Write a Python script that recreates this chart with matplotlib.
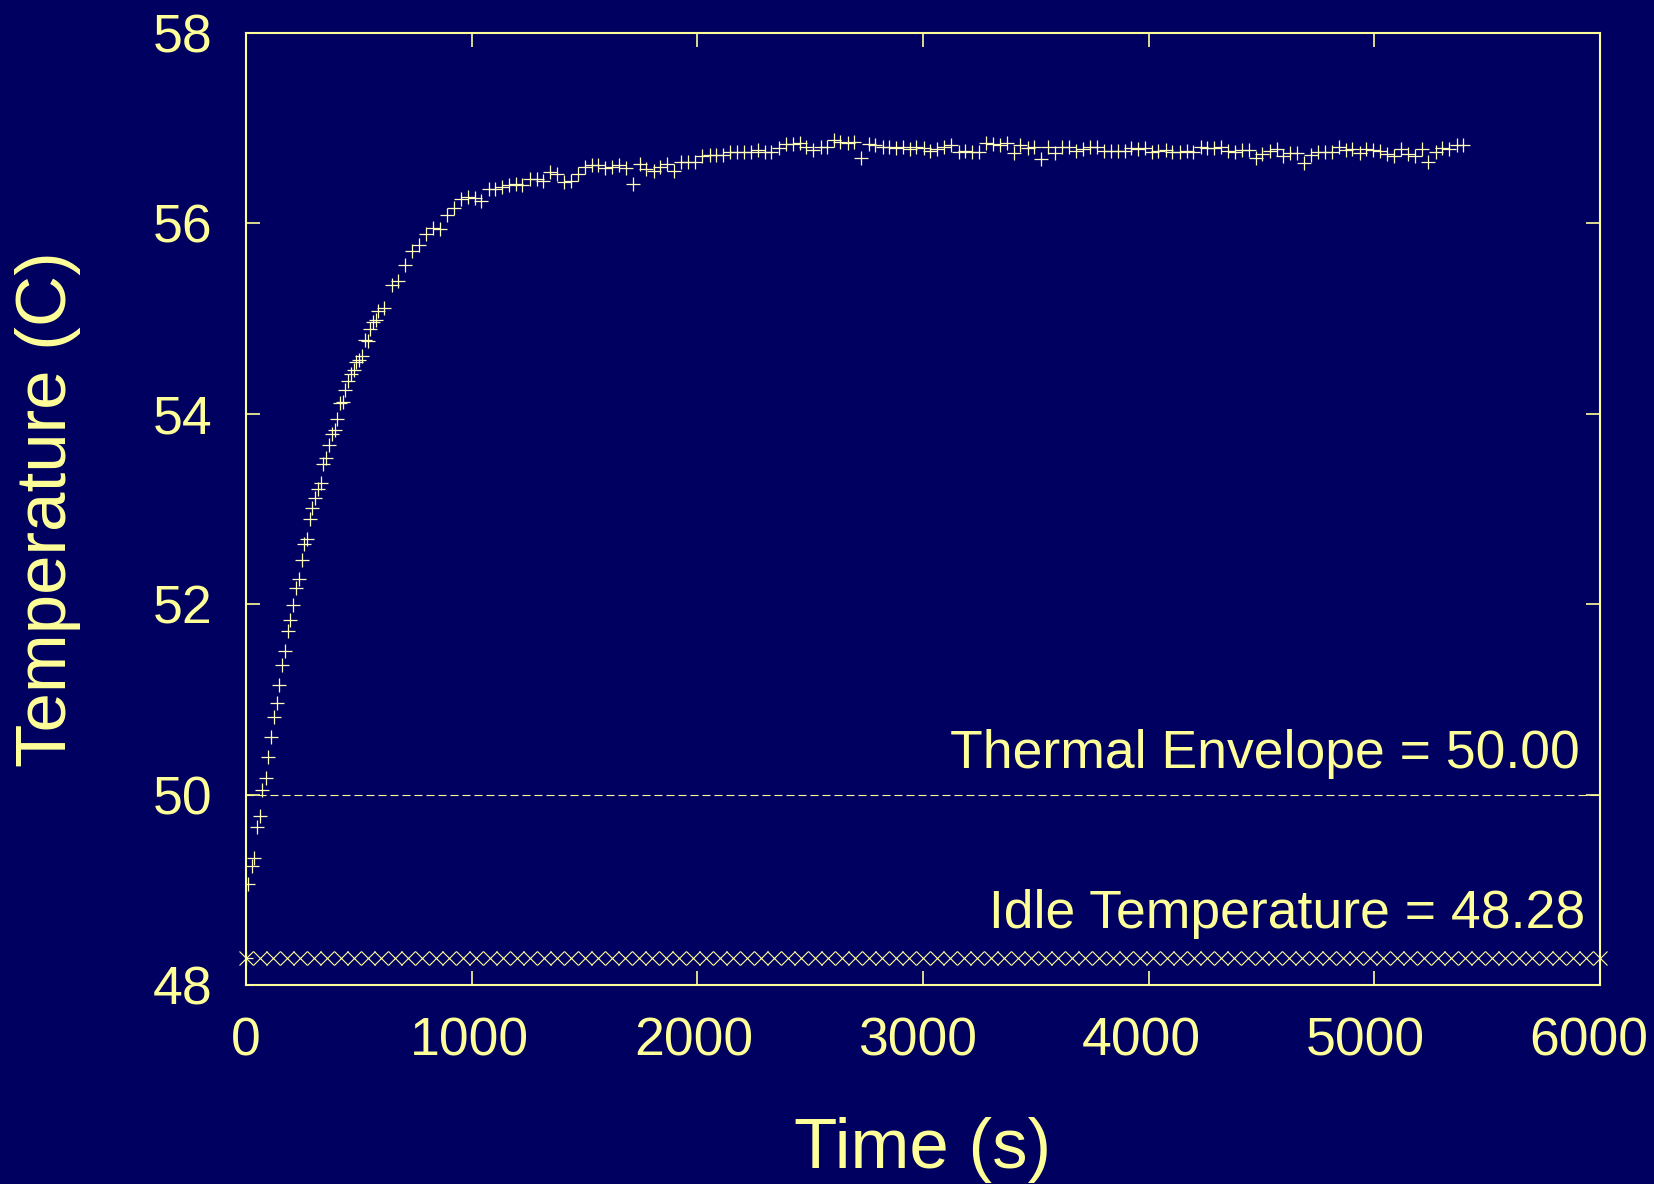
import numpy as np
import matplotlib
matplotlib.use("Agg")
import matplotlib.pyplot as plt
import matplotlib.transforms as mtransforms

plt.rcParams['font.family'] = ['Liberation Sans', 'DejaVu Sans']

# measured temperature trace (time in s, temperature in C)
times = [0, 10, 25, 37, 50, 62, 72, 87, 99, 109, 123, 136, 148, 160, 171, 185, 196,
         208, 222, 234, 247, 257, 272, 284, 294, 306, 319, 331, 343, 355, 369, 381,
         393, 403, 417, 429, 440, 454, 466, 479, 489, 502, 514, 527, 539, 551, 564,
         575, 587, 613, 646, 675, 705, 735, 767, 798, 828, 860, 890, 922, 952, 983,
         1014, 1042, 1075, 1104, 1135, 1165, 1196, 1225, 1259, 1289, 1316, 1348,
         1378, 1407, 1440, 1470, 1503, 1533, 1562, 1592, 1622, 1654, 1684, 1715,
         1744, 1774, 1806, 1836, 1866, 1895, 1928, 1957, 1991, 2021, 2055, 2084,
         2114, 2146, 2176, 2205, 2238, 2267, 2298, 2328, 2364, 2393, 2423, 2453,
         2483, 2513, 2546, 2575, 2605, 2634, 2667, 2696, 2726, 2759, 2789, 2822,
         2851, 2881, 2912, 2941, 2971, 3003, 3033, 3062, 3095, 3124, 3158, 3187,
         3217, 3246, 3281, 3310, 3340, 3373, 3402, 3432, 3464, 3494, 3523, 3553,
         3583, 3617, 3646, 3679, 3709, 3740, 3769, 3802, 3831, 3864, 3894, 3923,
         3953, 3984, 4016, 4043, 4075, 4105, 4139, 4168, 4198, 4231, 4260, 4290,
         4322, 4352, 4382, 4412, 4444, 4474, 4504, 4536, 4567, 4597, 4626, 4659,
         4689, 4718, 4751, 4780, 4814, 4844, 4873, 4903, 4936, 4965, 4995, 5026,
         5058, 5088, 5120, 5150, 5181, 5211, 5239, 5273, 5302, 5332, 5366, 5395]
temps = [48.28, 49.06, 49.25, 49.33, 49.66, 49.78, 50.05, 50.17, 50.40, 50.60, 50.81,
         50.96, 51.15, 51.36, 51.51, 51.72, 51.83, 51.99, 52.17, 52.26, 52.46, 52.63,
         52.68, 52.89, 53.01, 53.12, 53.21, 53.27, 53.47, 53.54, 53.67, 53.79, 53.83,
         53.95, 54.11, 54.12, 54.25, 54.34, 54.42, 54.46, 54.54, 54.57, 54.61, 54.77,
         54.76, 54.89, 54.96, 54.99, 55.08, 55.11, 55.35, 55.39, 55.56, 55.71, 55.77,
         55.89, 55.95, 55.94, 56.09, 56.16, 56.26, 56.28, 56.27, 56.24, 56.36, 56.36,
         56.38, 56.40, 56.41, 56.40, 56.47, 56.47, 56.45, 56.54, 56.52, 56.43, 56.45,
         56.52, 56.59, 56.61, 56.61, 56.58, 56.59, 56.61, 56.58, 56.41, 56.62, 56.57,
         56.55, 56.59, 56.62, 56.55, 56.64, 56.65, 56.64, 56.71, 56.72, 56.72, 56.72,
         56.75, 56.75, 56.75, 56.75, 56.77, 56.75, 56.75, 56.79, 56.83, 56.83, 56.84,
         56.80, 56.77, 56.80, 56.80, 56.88, 56.85, 56.84, 56.86, 56.69, 56.83, 56.82,
         56.80, 56.80, 56.79, 56.80, 56.78, 56.80, 56.79, 56.76, 56.78, 56.80, 56.82,
         56.75, 56.76, 56.75, 56.75, 56.84, 56.83, 56.82, 56.84, 56.74, 56.82, 56.79,
         56.80, 56.68, 56.80, 56.74, 56.80, 56.80, 56.76, 56.78, 56.80, 56.80, 56.76,
         56.76, 56.76, 56.76, 56.79, 56.78, 56.79, 56.75, 56.76, 56.77, 56.75, 56.75,
         56.76, 56.75, 56.80, 56.79, 56.79, 56.80, 56.76, 56.75, 56.77, 56.77, 56.69,
         56.73, 56.76, 56.78, 56.71, 56.74, 56.74, 56.63, 56.72, 56.75, 56.75, 56.75,
         56.80, 56.77, 56.78, 56.74, 56.78, 56.77, 56.76, 56.73, 56.71, 56.78, 56.73,
         56.71, 56.78, 56.65, 56.75, 56.79, 56.78, 56.82, 56.82]

envelope = 50.00
idle_temp = 48.28

bg = '#000060'
fg = '#ffff99'

fig = plt.figure(figsize=(16.54, 11.84), dpi=100, facecolor=bg)
ax = fig.add_axes([246 / 1654, 199 / 1184, 1354 / 1654, 952 / 1184], facecolor=bg)

# data points
ax.plot(times, temps, linestyle='none', marker='+', markersize=9.5,
        markeredgewidth=0.9, color='#ffffb8')

# thermal envelope
ax.plot([0, 6000], [envelope, envelope], color=fg, lw=0.8,
        linestyle=(0, (7.2, 3.6)))

# idle temperature
idle_x = np.linspace(0, 6000, 101)
ax.plot(idle_x, [idle_temp] * len(idle_x), linestyle='none', marker='x',
        markersize=9.5, markeredgewidth=0.8, color=fg, clip_on=False)

ax.text(5911, 50.28, 'Thermal Envelope = %.2f' % envelope,
        ha='right', va='baseline', fontsize=38.5, color=fg)
ax.text(5935, 48.60, 'Idle Temperature = %.2f' % idle_temp,
        ha='right', va='baseline', fontsize=38.5, color=fg)

ax.set_xlim(0, 6000)
ax.set_ylim(48, 58)
ax.set_xticks([0, 1000, 2000, 3000, 4000, 5000, 6000])
ax.set_yticks([48, 50, 52, 54, 56, 58])

for s in ax.spines.values():
    s.set_color(fg)
    s.set_linewidth(1.5)
ax.tick_params(which='both', direction='in', length=10, width=1.2, color=fg,
               labelcolor=fg, labelsize=38.5, top=True, right=True)
ax.tick_params(axis='x', pad=23)
ax.tick_params(axis='y', pad=24)

# x tick labels drift slightly left of their ticks towards the right end
for i, lab in enumerate(ax.get_xticklabels()):
    shift = mtransforms.ScaledTranslation(-1.8 * i / 100, 0, fig.dpi_scale_trans)
    lab.set_transform(lab.get_transform() + shift)

ax.set_xlabel('Time (s)', fontsize=51, color=fg, labelpad=36)
ax.set_ylabel('Temperature (C)', fontsize=51, color=fg, labelpad=52)

fig.savefig('out.png', dpi=100, facecolor=bg)
